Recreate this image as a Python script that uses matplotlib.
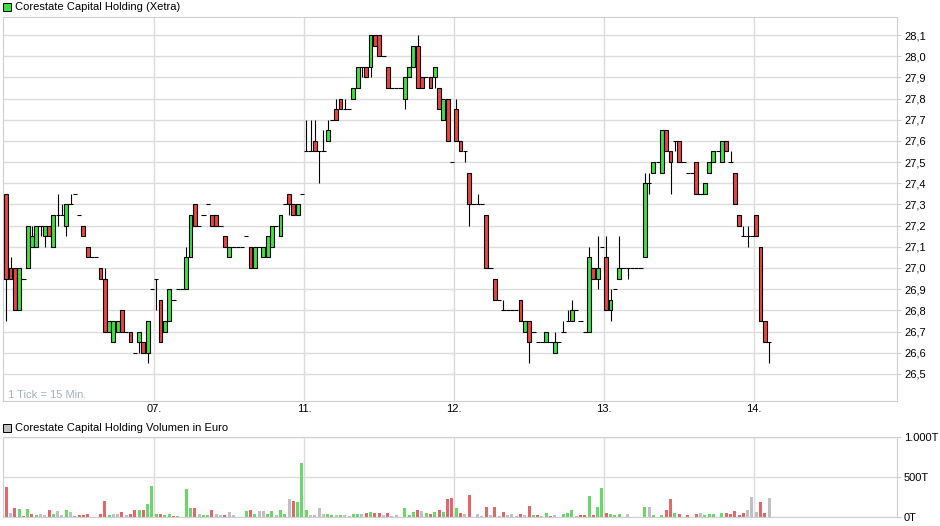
import matplotlib
matplotlib.use("Agg")
import matplotlib.pyplot as plt
import numpy as np
from matplotlib.patches import Rectangle

plt.rcParams['font.family'] = ['Liberation Sans', 'DejaVu Sans']

# ---------------- data (15-minute candles, 35 slots per trading day) ----------------
day_labels = ["07.", "11.", "12.", "13.", "14."]
slots_per_day = 35

opens = [
    # 06.
    27.35, 27.00, 27.00, 26.80, 26.95, 27.00, 27.10, 27.10, 27.20, 27.15,
    27.20, 27.10, 27.25, 27.25, 27.20, 27.30, 27.35, 27.25, 27.20, 27.10,
    27.05, 27.05, 27.00, 26.95, 26.70, 26.65, 26.70, 26.80, 26.70, 26.70,
    26.60, 26.65, 26.65, 26.60, 26.90,
    # 07.
    26.95, 26.85, 26.70, 26.75, 26.85, 26.90, 26.90, 26.90, 27.05, 27.30,
    27.20, 27.25, 27.30, 27.25, 27.25, 27.20, 27.15, 27.05, 27.10, 27.10,
    27.10, 27.15, 27.10, 27.00, 27.10, 27.05, 27.05, 27.10, 27.20, 27.15,
    27.30, 27.35, 27.30, 27.25, 27.35,
    # 11.
    27.55, 27.55, 27.60, 27.55, 27.55, 27.60, 27.70, 27.75, 27.80, 27.75,
    27.75, 27.80, 27.85, 27.95, 27.95, 27.95, 28.10, 28.10, 28.00, 27.95,
    27.85, 27.85, 27.85, 27.80, 27.90, 27.95, 28.05, 27.90, 27.90, 27.90,
    27.90, 27.85, 27.70, 27.80, 27.50,
    # 12.
    27.75, 27.60, 27.55, 27.45, 27.30, 27.30, 27.30, 27.25, 27.00, 26.95,
    26.85, 26.80, 26.80, 26.80, 26.80, 26.85, 26.70, 26.75, 26.70, 26.65,
    26.65, 26.65, 26.65, 26.60, 26.65, 26.70, 26.75, 26.75, 26.80, 26.75,
    26.70, 26.70, 27.00, 26.95, 27.10,
    # 13.
    27.05, 26.80, 26.90, 26.95, 27.00, 27.00, 27.00, 27.00, 27.00, 27.05,
    27.40, 27.45, 27.50, 27.45, 27.65, 27.55, 27.60, 27.60, 27.50, 27.45,
    27.45, 27.50, 27.35, 27.35, 27.45, 27.50, 27.55, 27.50, 27.60, 27.50,
    27.45, 27.25, 27.15, 27.15, 27.15,
    # 14.
    27.25, 27.10, 26.75, 26.65,
]

closes = [
    # 06.
    26.95, 26.95, 26.80, 27.00, 26.95, 27.20, 27.15, 27.20, 27.20, 27.20,
    27.15, 27.25, 27.25, 27.25, 27.30, 27.30, 27.35, 27.25, 27.15, 27.05,
    27.05, 27.05, 26.95, 26.70, 26.75, 26.75, 26.75, 26.70, 26.70, 26.65,
    26.60, 26.70, 26.60, 26.75, 26.90,
    # 07.
    26.95, 26.65, 26.75, 26.90, 26.85, 26.90, 26.90, 27.05, 27.25, 27.20,
    27.20, 27.25, 27.30, 27.20, 27.20, 27.20, 27.10, 27.10, 27.10, 27.10,
    27.10, 27.15, 27.00, 27.10, 27.10, 27.10, 27.15, 27.20, 27.20, 27.25,
    27.30, 27.30, 27.25, 27.30, 27.35,
    # 11.
    27.55, 27.55, 27.55, 27.55, 27.55, 27.65, 27.70, 27.70, 27.75, 27.75,
    27.75, 27.85, 27.95, 27.95, 27.90, 28.10, 28.05, 28.00, 28.00, 27.85,
    27.85, 27.85, 27.85, 27.90, 27.95, 28.05, 27.85, 27.85, 27.90, 27.85,
    27.95, 27.75, 27.80, 27.60, 27.50,
    # 12.
    27.60, 27.55, 27.55, 27.30, 27.30, 27.30, 27.30, 27.00, 27.00, 26.85,
    26.85, 26.80, 26.80, 26.80, 26.80, 26.75, 26.75, 26.65, 26.70, 26.65,
    26.65, 26.70, 26.65, 26.65, 26.65, 26.70, 26.75, 26.80, 26.80, 26.75,
    26.70, 27.05, 26.95, 27.00, 27.10,
    # 13.
    26.80, 26.85, 26.90, 27.00, 27.00, 27.00, 27.00, 27.00, 27.00, 27.40,
    27.40, 27.50, 27.50, 27.65, 27.55, 27.50, 27.60, 27.50, 27.50, 27.45,
    27.45, 27.35, 27.35, 27.40, 27.50, 27.55, 27.55, 27.60, 27.55, 27.50,
    27.30, 27.20, 27.15, 27.15, 27.15,
    # 14.
    27.15, 26.75, 26.65, 26.65,
]

highs = [
    # 06.
    27.35, 27.05, 27.00, 27.00, 26.95, 27.20, 27.20, 27.20, 27.20, 27.20,
    27.20, 27.25, 27.35, 27.30, 27.30, 27.35, 27.35, 27.25, 27.20, 27.10,
    27.05, 27.05, 27.00, 27.00, 26.75, 26.75, 26.75, 26.80, 26.70, 26.70,
    26.60, 26.70, 26.65, 26.75, 26.90,
    # 07.
    26.95, 26.85, 26.75, 26.90, 26.85, 26.90, 26.90, 27.10, 27.25, 27.30,
    27.20, 27.25, 27.30, 27.25, 27.25, 27.20, 27.15, 27.10, 27.10, 27.10,
    27.10, 27.15, 27.10, 27.10, 27.10, 27.10, 27.15, 27.20, 27.20, 27.25,
    27.30, 27.35, 27.30, 27.30, 27.35,
    # 11.
    27.70, 27.70, 27.70, 27.55, 27.65, 27.70, 27.70, 27.80, 27.80, 27.80,
    27.75, 27.85, 27.95, 27.95, 27.95, 28.10, 28.10, 28.10, 28.00, 27.95,
    27.85, 27.85, 27.85, 27.90, 27.95, 28.05, 28.10, 27.90, 27.90, 27.90,
    27.95, 27.85, 27.80, 27.80, 27.50,
    # 12.
    27.80, 27.60, 27.55, 27.45, 27.30, 27.35, 27.30, 27.25, 27.00, 26.95,
    26.85, 26.85, 26.80, 26.80, 26.80, 26.85, 26.75, 26.75, 26.70, 26.65,
    26.65, 26.70, 26.65, 26.70, 26.65, 26.75, 26.80, 26.85, 26.80, 26.75,
    26.70, 27.10, 27.00, 27.15, 27.10,
    # 13.
    27.15, 26.90, 26.90, 27.15, 27.00, 27.00, 27.00, 27.00, 27.00, 27.45,
    27.45, 27.50, 27.50, 27.65, 27.65, 27.55, 27.60, 27.60, 27.50, 27.45,
    27.45, 27.50, 27.35, 27.40, 27.50, 27.55, 27.55, 27.60, 27.60, 27.55,
    27.45, 27.25, 27.20, 27.20, 27.15,
    # 14.
    27.25, 27.10, 26.75, 26.65,
]

lows = [
    # 06.
    26.75, 26.95, 26.80, 26.80, 26.95, 27.00, 27.10, 27.10, 27.15, 27.10,
    27.15, 27.10, 27.20, 27.25, 27.15, 27.30, 27.35, 27.25, 27.15, 27.05,
    27.05, 27.05, 26.95, 26.70, 26.70, 26.65, 26.70, 26.70, 26.70, 26.65,
    26.60, 26.60, 26.60, 26.55, 26.90,
    # 07.
    26.80, 26.65, 26.70, 26.75, 26.85, 26.90, 26.90, 26.90, 27.05, 27.20,
    27.20, 27.25, 27.30, 27.20, 27.20, 27.20, 27.10, 27.05, 27.10, 27.10,
    27.10, 27.15, 27.00, 27.00, 27.10, 27.05, 27.05, 27.10, 27.20, 27.15,
    27.30, 27.25, 27.25, 27.25, 27.35,
    # 11.
    27.55, 27.55, 27.55, 27.40, 27.55, 27.60, 27.70, 27.70, 27.75, 27.75,
    27.75, 27.80, 27.85, 27.90, 27.90, 27.90, 28.05, 28.00, 28.00, 27.85,
    27.85, 27.85, 27.85, 27.75, 27.90, 27.95, 27.85, 27.85, 27.90, 27.85,
    27.85, 27.75, 27.70, 27.60, 27.50,
    # 12.
    27.60, 27.55, 27.50, 27.20, 27.30, 27.30, 27.30, 27.00, 27.00, 26.85,
    26.85, 26.80, 26.80, 26.80, 26.80, 26.75, 26.70, 26.55, 26.70, 26.65,
    26.65, 26.65, 26.65, 26.60, 26.65, 26.70, 26.75, 26.75, 26.80, 26.75,
    26.70, 26.70, 26.95, 26.90, 27.10,
    # 13.
    26.80, 26.75, 26.90, 26.95, 27.00, 26.95, 27.00, 27.00, 27.00, 27.05,
    27.35, 27.45, 27.50, 27.45, 27.55, 27.35, 27.55, 27.50, 27.50, 27.45,
    27.45, 27.35, 27.35, 27.35, 27.45, 27.50, 27.55, 27.50, 27.55, 27.50,
    27.30, 27.20, 27.15, 27.10, 27.15,
    # 14.
    27.15, 26.75, 26.65, 26.55,
]

# volume in thousand euro ("T")
volumes = [
    # 06.
    378, 50, 118, 105, 8, 97, 42, 21, 42, 29,
    84, 42, 71, 29, 92, 59, 8, 29, 21, 34,
    0, 0, 34, 200, 21, 34, 34, 59, 21, 34,
    84, 84, 84, 160, 386,
    # 07.
    42, 34, 21, 42, 8, 8, 0, 349, 118, 118,
    42, 21, 29, 84, 42, 29, 29, 59, 21, 0,
    0, 71, 84, 34, 71, 71, 42, 71, 21, 84,
    34, 223, 202, 189, 680,
    # 11.
    84, 21, 21, 109, 42, 42, 21, 21, 21, 21,
    8, 34, 34, 34, 46, 59, 46, 46, 21, 46,
    8, 21, 0, 109, 21, 59, 84, 71, 46, 34,
    59, 84, 59, 223, 235,
    # 12.
    109, 46, 34, 273, 0, 34, 8, 122, 21, 122,
    8, 59, 21, 34, 8, 34, 21, 134, 21, 21,
    8, 46, 8, 21, 0, 34, 46, 84, 8, 21,
    21, 260, 21, 122, 361,
    # 13.
    46, 34, 21, 34, 0, 34, 0, 0, 0, 122,
    122, 21, 0, 21, 84, 223, 46, 34, 0, 21,
    0, 34, 46, 21, 34, 34, 0, 46, 46, 34,
    71, 21, 46, 84, 248,
    # 14.
    59, 185, 46, 235,
]

price_ticks = [26.5, 26.6, 26.7, 26.8, 26.9, 27.0, 27.1, 27.2, 27.3, 27.4,
               27.5, 27.6, 27.7, 27.8, 27.9, 28.0, 28.1]
volume_ticks = [0, 500, 1000]
volume_tick_labels = ["0T", "500T", "1.000T"]

title_price = "Corestate Capital Holding (Xetra)"
title_volume = "Corestate Capital Holding Volumen in Euro"
tick_note = "1 Tick = 15 Min."

# ---------------- styling ----------------
W, H = 940, 526
GREEN = "#3ee23e"
RED = "#ee4343"
VGREEN = "#6bd66b"
VRED = "#e06868"
VGREY = "#c0c0c0"
GRID = "#dcdcdc"
FRAME = "#cfcfcf"

fig = plt.figure(figsize=(W / 100, H / 100), dpi=100)


def fx(px):
    return px / W


def fy(py):
    return 1 - py / H


ax = fig.add_axes([fx(3), fy(401), fx(897) - fx(3), fy(17) - fy(401)])
axv = fig.add_axes([fx(3), fy(517), fx(897) - fx(3), fy(437) - fy(517)], sharex=ax)

n = len(opens)
x = np.arange(n)
o = np.array(opens)
c = np.array(closes)
h = np.array(highs)
l = np.array(lows)
v = np.array(volumes, dtype=float)

px_per_slot = 150 / slots_per_day
x_left = -0.5 - 0.25
x_right = x_left + (894 / px_per_slot)

boundaries = [slots_per_day * (k + 1) - 0.5 for k in range(len(day_labels))]

for a in (ax, axv):
    a.set_xlim(x_left, x_right)
    for s in a.spines.values():
        s.set_color(FRAME)
        s.set_linewidth(0.8)
    a.set_facecolor("white")
    a.set_axisbelow(True)

# price grid and ticks
ax.set_ylim(26.372, 28.185)
ax.set_yticks(price_ticks)
ax.set_yticklabels([f"{t:.1f}".replace(".", ",") for t in price_ticks])
ax.yaxis.tick_right()
ax.tick_params(axis="y", length=3, width=0.8, color=FRAME, labelsize=8, pad=2)
ax.grid(axis="y", color=GRID, lw=1)
ax.set_xticks(boundaries)
ax.set_xticklabels(day_labels)
ax.tick_params(axis="x", length=0, labelsize=8, pad=2)
ax.grid(axis="x", color=GRID, lw=1)

# candles
body_w = 0.92
lw = 0.8
ax.vlines(x[h > l], l[h > l], h[h > l], color="black", lw=lw, zorder=2)
for i in range(n):
    if abs(o[i] - c[i]) < 1e-9:
        ax.hlines(o[i], i - 0.5, i + 0.5, color="black", lw=lw, zorder=3)
    else:
        col = GREEN if c[i] > o[i] else RED
        ax.add_patch(Rectangle((i - body_w / 2, min(o[i], c[i])), body_w,
                               abs(c[i] - o[i]), facecolor=col,
                               edgecolor="black", lw=lw, zorder=3))

ax.text(fx(8), fy(395), tick_note, transform=fig.transFigure,
        fontsize=8, color="#a4b0c4", va="center", ha="left")

# volume
prev = np.concatenate([[o[0]], c[:-1]])
vcols = [VGREEN if c[i] > prev[i] + 1e-9 else (VRED if c[i] < prev[i] - 1e-9 else VGREY)
         for i in range(n)]
axv.bar(x, v, width=0.7, color=vcols, zorder=2)
axv.set_ylim(0, 1000)
axv.set_yticks(volume_ticks)
axv.set_yticklabels(volume_tick_labels)
axv.yaxis.tick_right()
axv.tick_params(axis="y", length=3, width=0.8, color=FRAME, labelsize=8, pad=2)
axv.grid(axis="y", color=GRID, lw=1)
axv.tick_params(axis="x", length=0, labelbottom=False)
axv.grid(axis="x", color=GRID, lw=1)

# legends / titles
fig.patches.append(Rectangle((fx(3), fy(11)), fx(8), fy(3) - fy(11),
                             transform=fig.transFigure, facecolor=GREEN,
                             edgecolor="black", lw=0.7))
fig.text(fx(15), fy(7), title_price, fontsize=8, va="center", ha="left")
fig.patches.append(Rectangle((fx(3), fy(432)), fx(8), fy(424) - fy(432),
                             transform=fig.transFigure, facecolor=VGREY,
                             edgecolor="black", lw=0.7))
fig.text(fx(15), fy(428), title_volume, fontsize=8, va="center", ha="left")

fig.savefig("out.png", dpi=100, facecolor="white")
